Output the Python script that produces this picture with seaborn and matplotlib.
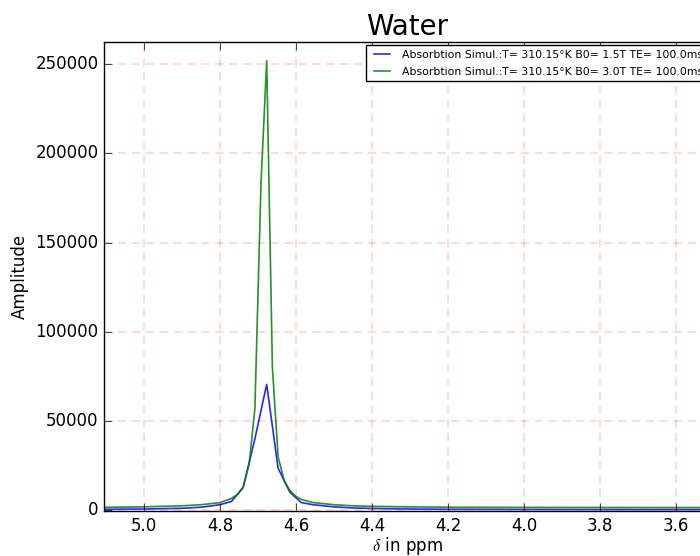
import matplotlib
matplotlib.use("Agg")
import matplotlib.pyplot as plt
import seaborn as sns
import pandas as pd

# chemical shift (ppm) and amplitude
ppm_15T = [5.12, 5.0, 4.9, 4.85, 4.80, 4.77, 4.739, 4.708, 4.677, 4.647, 4.616,
           4.586, 4.555, 4.50, 4.45, 4.40, 4.30, 4.20, 4.00, 3.80, 3.60, 3.45]
amp_15T = [400, 600, 1000, 1600, 3000, 4800, 12500, 40000, 70500, 23500, 10000,
           4200, 3000, 1800, 1200, 900, 600, 450, 350, 300, 280, 270]

ppm_30T = [5.12, 5.0, 4.9, 4.85, 4.80, 4.77, 4.754, 4.739, 4.723, 4.708, 4.692,
           4.677, 4.662, 4.647, 4.631, 4.616, 4.601, 4.586, 4.555, 4.50, 4.45,
           4.40, 4.30, 4.20, 4.00, 3.80, 3.60, 3.45]
amp_30T = [1500, 1800, 2400, 3000, 4200, 6500, 8800, 13000, 26000, 57000, 183000,
           252000, 80000, 30000, 16500, 11000, 7800, 6000, 4200, 3000, 2400,
           2100, 1800, 1600, 1500, 1450, 1400, 1400]

labels = ["Absorbtion Simul.:T= 310.15\u00b0K B0= 1.5T TE= 100.0ms",
          "Absorbtion Simul.:T= 310.15\u00b0K B0= 3.0T TE= 100.0ms"]
title = "Water"
xticks = [5.0, 4.8, 4.6, 4.4, 4.2, 4.0, 3.8, 3.6]
yticks = [0, 50000, 100000, 150000, 200000, 250000]

df = pd.concat([
    pd.DataFrame({"ppm": ppm_15T, "amp": amp_15T, "series": labels[0]}),
    pd.DataFrame({"ppm": ppm_30T, "amp": amp_30T, "series": labels[1]}),
])

plt.style.use("classic")
fig = plt.figure(figsize=(7.0, 5.56), dpi=100, facecolor="white")
ax = fig.add_axes([0.1486, 0.081, 0.866, 0.8435])

sns.lineplot(data=df, x="ppm", y="amp", hue="series",
             palette={labels[0]: "#0000ff", labels[1]: "#008000"},
             estimator=None, sort=True, linewidth=1.2, alpha=0.85, ax=ax)

ax.set_xlim(5.105, 3.51)
ax.set_ylim(-500, 262500)
ax.set_xticks(xticks)
ax.set_xticklabels([f"{t:.1f}" for t in xticks])
ax.set_yticks(yticks)
ax.set_yticklabels([str(t) for t in yticks])
ax.tick_params(direction="in", length=6, labelsize=12, top=True, right=True)
ax.grid(True, color="red", alpha=0.18, linestyle=(0, (6, 4)), linewidth=1.2)
ax.set_axisbelow(False)

ax.set_xlabel(r"$\delta$ in ppm", fontsize=12, labelpad=0)
ax.set_ylabel("Amplitude", fontsize=12)
ax.set_title(title, fontsize=20)

leg = ax.legend(loc="upper right", fontsize=7.8, frameon=True, fancybox=False,
                borderaxespad=0.25, handlelength=2.0, borderpad=0.45,
                labelspacing=0.65)
leg.get_frame().set_edgecolor("black")
for line in leg.get_lines():
    line.set_linewidth(1.2)

fig.savefig("out.png", dpi=100, facecolor="white")
